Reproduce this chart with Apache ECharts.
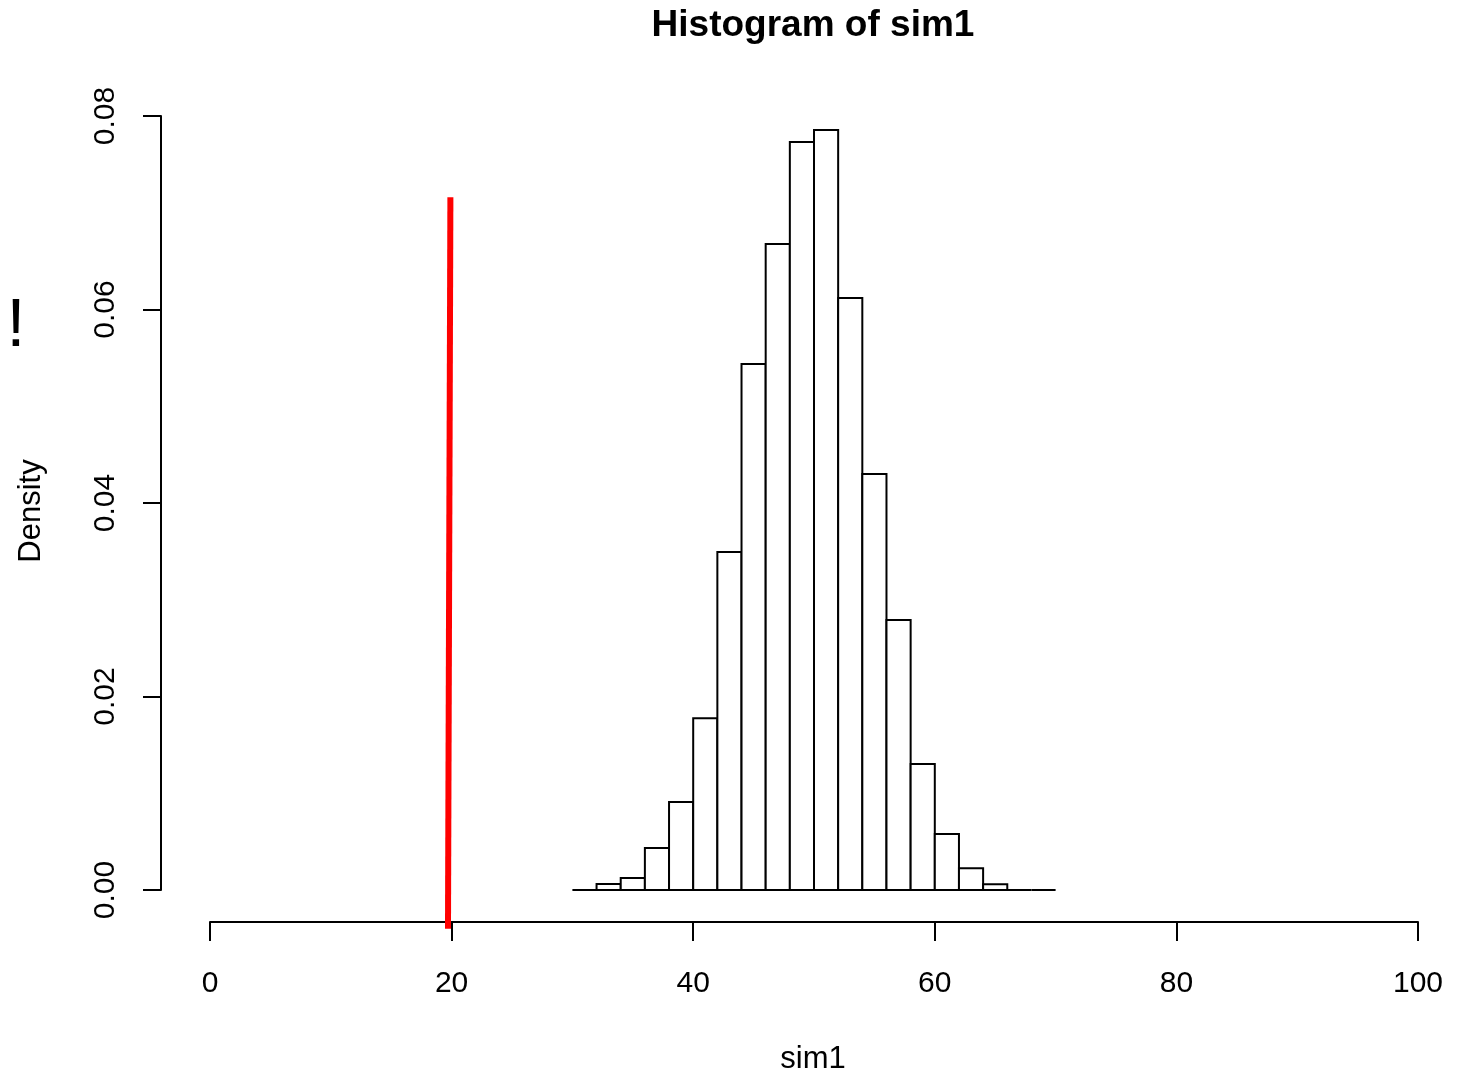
<!DOCTYPE html>
<html>
<head>
<meta charset="utf-8">
<title>Histogram of sim1</title>
<script src="https://cdn.jsdelivr.net/npm/echarts@6/dist/echarts.min.js"></script>
<style>
  html, body { margin: 0; padding: 0; background: #ffffff; }
  #chart { width: 1462px; height: 1075px; }
</style>
</head>
<body>
<div id="chart"></div>
<script>
// Histogram breaks (bin edges) and density per bin
const breaks = [30, 32, 34, 36, 38, 40, 42, 44, 46, 48, 50, 52, 54, 56, 58, 60, 62, 64, 66, 68, 70];
const density = [0.0000, 0.00062, 0.00124, 0.00434, 0.0091, 0.01775, 0.03494, 0.05437, 0.06677, 0.07731,
                 0.07855, 0.06119, 0.0430, 0.02791, 0.01302, 0.00579, 0.00224, 0.00059, 0.0000, 0.0000];

// Axis ticks
const xTicks = [0, 20, 40, 60, 80, 100];
const yTicks = [0.00, 0.02, 0.04, 0.06, 0.08];

// Observed value marker (red vertical segment)
const refLineX = [19.7, 19.9];
const refLineY = [-0.004, 0.0716];

const FONT = '"Liberation Sans", Arial, Helvetica, sans-serif';

const bins = density.map((d, i) => [breaks[i], breaks[i + 1], d]);
const refLine = refLineX.map((x, i) => [x, refLineY[i]]);

const chart = echarts.init(document.getElementById('chart'), null, { renderer: 'canvas' });

chart.setOption({
  backgroundColor: '#ffffff',
  animation: false,
  grid: { left: 210, right: 44, top: 116, bottom: 185, containLabel: false },
  xAxis: {
    type: 'value',
    min: xTicks[0],
    max: xTicks[xTicks.length - 1],
    interval: xTicks[1] - xTicks[0],
    offset: 32,
    splitLine: { show: false },
    axisLine: { show: true, onZero: false, lineStyle: { color: '#000', width: 2 } },
    axisTick: { show: true, length: 19, lineStyle: { color: '#000', width: 2 } },
    axisLabel: { color: '#000', fontSize: 30, fontFamily: FONT, margin: 47 }
  },
  yAxis: {
    type: 'value',
    min: yTicks[0],
    max: yTicks[yTicks.length - 1],
    interval: yTicks[1] - yTicks[0],
    offset: 49,
    splitLine: { show: false },
    axisLine: { show: true, onZero: false, lineStyle: { color: '#000', width: 2 } },
    axisTick: { show: true, length: 18, lineStyle: { color: '#000', width: 2 } },
    axisLabel: {
      color: '#000', fontSize: 30, fontFamily: FONT, rotate: 90, margin: 40,
      formatter: v => v.toFixed(2)
    }
  },
  series: [
    {
      type: 'custom',
      clip: false,
      data: bins,
      renderItem: function (params, api) {
        const p0 = api.coord([api.value(0), api.value(2)]);
        const p1 = api.coord([api.value(1), 0]);
        return {
          type: 'rect',
          shape: { x: p0[0], y: p0[1], width: p1[0] - p0[0], height: p1[1] - p0[1] },
          style: { fill: '#ffffff', stroke: '#000000', lineWidth: 2 }
        };
      }
    },
    {
      type: 'line',
      clip: false,
      data: refLine,
      symbol: 'none',
      lineStyle: { color: '#ff0000', width: 6, cap: 'butt' },
      z: 5
    }
  ],
  graphic: [
    {
      type: 'text',
      x: 813, y: 26,
      style: {
        text: 'Histogram of sim1', fill: '#000', font: 'bold 37px ' + FONT,
        textAlign: 'center', textVerticalAlign: 'middle'
      }
    },
    {
      type: 'text',
      x: 813, y: 1059,
      style: {
        text: 'sim1', fill: '#000', font: '31px ' + FONT,
        textAlign: 'center', textVerticalAlign: 'middle'
      }
    },
    {
      type: 'text',
      x: 31, y: 511,
      rotation: Math.PI / 2,
      style: {
        text: 'Density', fill: '#000', font: '31px ' + FONT,
        textAlign: 'center', textVerticalAlign: 'middle'
      }
    },
    {
      type: 'text',
      x: 16, y: 327,
      style: {
        text: '!', fill: '#000', font: '68px ' + FONT,
        textAlign: 'center', textVerticalAlign: 'middle'
      }
    }
  ]
});
</script>
</body>
</html>
